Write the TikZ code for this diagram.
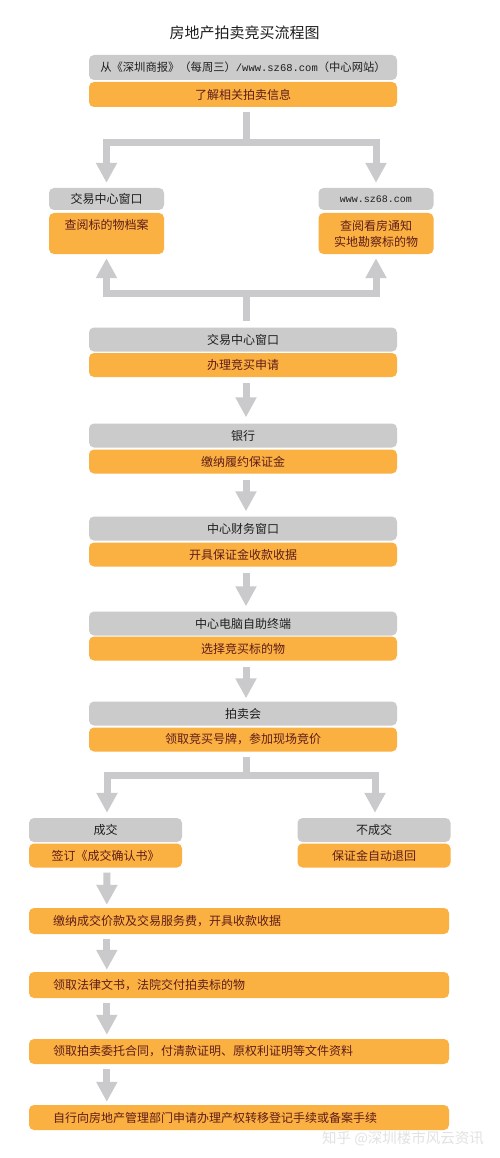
\documentclass[tikz,border=0pt]{standalone}
\usepackage{fontspec}
\setmainfont{Noto Sans CJK SC}
\newfontfamily\urlfont{Liberation Mono}
\usetikzlibrary{arrows.meta,calc}
\definecolor{boxgray}{HTML}{CBCBCB}
\definecolor{boxorange}{HTML}{FBB042}
\definecolor{arrgray}{HTML}{CACACC}
\definecolor{otext}{HTML}{5E1D1A}
\definecolor{gtext}{HTML}{1E1E1E}
\definecolor{wmark}{HTML}{E2E2E2}
\begin{document}
\begin{tikzpicture}[x=1pt,y=-1pt,
  basebox/.style={rounded corners=5pt,inner sep=0pt,minimum height=24pt,align=center,font=\fontsize{12}{16}\selectfont},
  gbox/.style={basebox,fill=boxgray,text=gtext},
  obox/.style={basebox,fill=boxorange,text=otext},
  wide/.style={minimum width=308pt},
  side/.style={minimum width=115pt},
  branch/.style={minimum width=153pt},
  longbox/.style={obox,inner xsep=24pt,text width=372pt,align=left},
  shaft/.style={draw=arrgray,line width=7pt,line join=miter},
  arr/.style={shaft,-{Triangle[width=20pt,length=20pt]}}
]
\useasboundingbox[fill=white] (0,0) rectangle (500,1158);

\node[font=\fontsize{15}{18}\selectfont,text=gtext] (title) at (244.5,33) {房地产拍卖竞买流程图};

% top
\node[gbox,wide,minimum height=25pt,font=\fontsize{11.3}{14}\selectfont] (src) at (243,67.5) {从《深圳商报》（每周三）{\urlfont\fontsize{10.5}{14}\selectfont/www.sz68.com}（中心网站）};
\node[obox,wide,minimum height=25pt] (info) at (243,94.5) {了解相关拍卖信息};

% side boxes
\node[gbox,side,minimum height=22pt] (lg) at (106.5,199) {交易中心窗口};
\node[obox,side,minimum height=41pt] (lo) at (106.5,233.5) {\raisebox{-2pt}{查阅标的物档案}\\\strut};
\node[gbox,side,minimum height=22pt] (rg) at (376,199) {{\urlfont\fontsize{10}{12}\selectfont www.sz68.com}};
\node[obox,side,minimum height=41pt] (ro) at (376,233.5) {查阅看房通知\\实地勘察标的物};

% main chain
\node[gbox,wide] (ag) at (243,339.5) {交易中心窗口};
\node[obox,wide] (ao) at (243,365) {办理竞买申请};
\node[gbox,wide] (bg) at (243,435.5) {银行};
\node[obox,wide] (bo) at (243,461.5) {缴纳履约保证金};
\node[gbox,wide] (cg) at (243,528.5) {中心财务窗口};
\node[obox,wide] (co) at (243,554.5) {开具保证金收款收据};
\node[gbox,wide] (dg) at (243,623.5) {中心电脑自助终端};
\node[obox,wide] (do) at (243,648.5) {选择竞买标的物};
\node[gbox,wide] (eg) at (243,713.5) {拍卖会};
\node[obox,wide] (eo) at (243,739.5) {领取竞买号牌，参加现场竞价};

% branches
\node[gbox,branch] (yg) at (105.5,830) {成交};
\node[obox,branch] (yo) at (105.5,855.5) {签订《成交确认书》};
\node[gbox,branch] (ng) at (374,830) {不成交};
\node[obox,branch] (no) at (374,855.5) {保证金自动退回};

% long boxes
\node[longbox,minimum height=26pt] (l1) at (239,921) {缴纳成交价款及交易服务费，开具收款收据};
\node[longbox,minimum height=26pt] (l2) at (239,985) {领取法律文书，法院交付拍卖标的物};
\node[longbox,minimum height=25pt] (l3) at (239,1051.5) {领取拍卖委托合同，付清款证明、原权利证明等文件资料};
\node[longbox,minimum height=25pt] (l4) at (239,1117.5) {自行向房地产管理部门申请办理产权转移登记手续或备案手续};

\node[font=\fontsize{14.5}{16}\selectfont,text=wmark] (wm) at (403,1139) {知乎 @深圳楼市风云资讯};

% connectors
\coordinate (f1) at (246,143);
\draw[shaft] ($(info.south)+(3,5)$) -- (f1);
\draw[arr] (f1) -| ($(lg.north)+(0,-5)$);
\draw[arr] (f1) -| ($(rg.north)+(0,-5)$);

\coordinate (f2) at (246,293);
\draw[arr] (f2) -| ($(lo.south)+(0,4)$);
\draw[arr] (f2) -| ($(ro.south)+(0,4)$);
\draw[shaft] (f2) -- ($(ag.north)+(3,-6)$);

\draw[arr] ($(ao.south)+(3,6)$) -- ($(bg.north)+(3,-6)$);
\draw[arr] ($(bo.south)+(3,6)$) -- ($(cg.north)+(3,-5)$);
\draw[arr] ($(co.south)+(3,6)$) -- ($(dg.north)+(3,-5)$);
\draw[arr] ($(do.south)+(3,6)$) -- ($(eg.north)+(3,-3)$);

\coordinate (f3) at (246,775);
\draw[shaft] ($(eo.south)+(3,5)$) -- (f3);
\draw[arr] (f3) -| ($(yg.north)+(1.5,-5)$);
\draw[arr] (f3) -| ($(ng.north)+(1,-5)$);

\draw[arr] ($(yo.south)+(1.5,5)$) -- ($(l1.north west)+(78,-3)$);
\draw[arr] ($(l1.south west)+(78,5)$) -- ($(l2.north west)+(78,-2)$);
\draw[arr] ($(l2.south west)+(78,5)$) -- ($(l3.north west)+(78,-4)$);
\draw[arr] ($(l3.south west)+(78,5)$) -- ($(l4.north west)+(78,-3)$);
\end{tikzpicture}
\end{document}
